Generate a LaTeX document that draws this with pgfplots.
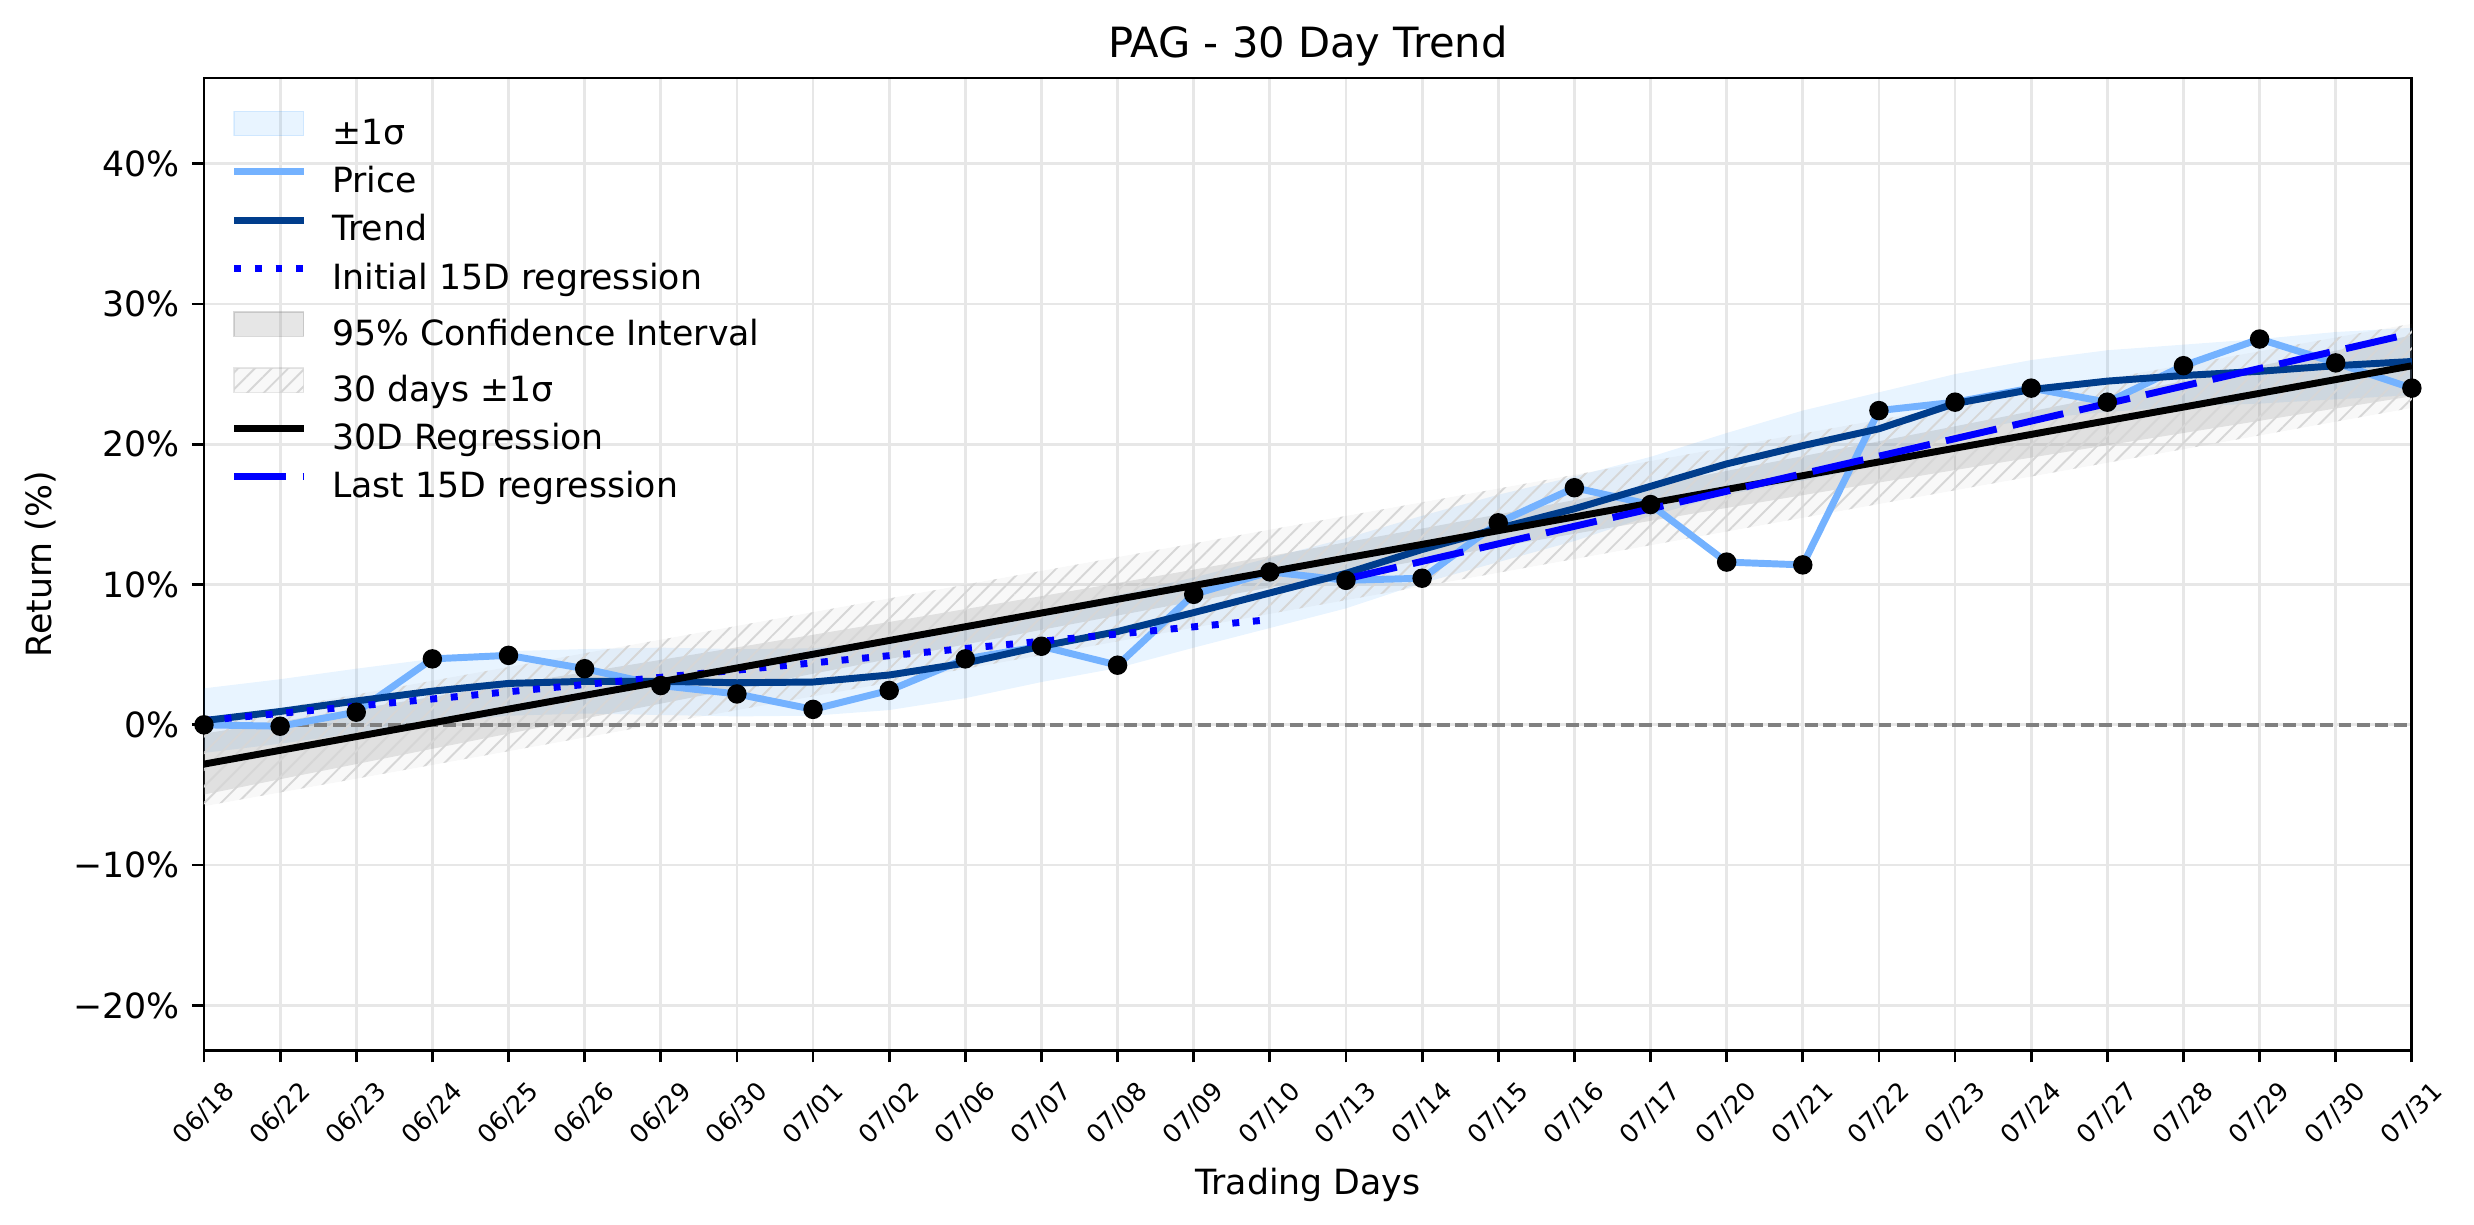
\documentclass[border=0pt]{standalone}
\usepackage{fontspec}
\setmainfont{DejaVu Sans}
\usepackage{pgfplots}
\pgfplotsset{compat=1.18}
\usepackage{pgfplotstable}
\usepgfplotslibrary{fillbetween}
\usetikzlibrary{patterns.meta}

\definecolor{priceblue}{RGB}{116,178,255}
\definecolor{trendblue}{RGB}{0,61,140}
\definecolor{bandblue}{RGB}{30,144,255}
\definecolor{gridgray}{RGB}{231,231,231}

\pgfplotstableread{
i P T U L R CU CL SU SL
0 0.0 0.3 2.6 -2.0 -2.80 -0.63 -4.97 0.20 -5.80
1 -0.1 0.95 3.25 -1.35 -1.82 0.24 -3.88 1.18 -4.82
2 0.9 1.7 4.0 -0.6 -0.84 1.12 -2.80 2.16 -3.84
3 4.7 2.4 4.7 0.1 0.14 1.99 -1.71 3.14 -2.86
4 4.95 2.95 5.25 0.65 1.12 2.87 -0.63 4.12 -1.88
5 4.0 3.1 5.4 0.8 2.10 3.75 0.45 5.10 -0.90
6 2.8 3.1 5.5 0.7 3.07 4.63 1.51 6.07 0.07
7 2.2 3.0 5.4 0.6 4.05 5.52 2.58 7.05 1.05
8 1.1 3.05 5.45 0.65 5.03 6.42 3.64 8.03 2.03
9 2.45 3.55 6.05 1.05 6.01 7.33 4.69 9.01 3.01
10 4.7 4.4 6.9 1.9 6.99 8.25 5.73 9.99 3.99
11 5.6 5.6 8.15 3.05 7.97 9.17 6.77 10.97 4.97
12 4.25 6.65 9.25 4.05 8.95 10.11 7.79 11.95 5.95
13 9.3 8.0 10.5 5.5 9.93 11.06 8.80 12.93 6.93
14 10.9 9.4 11.9 6.9 10.91 12.03 9.79 13.91 7.91
15 10.3 10.8 13.3 8.3 11.89 13.01 10.77 14.89 8.89
16 10.45 12.5 14.9 10.1 12.86 13.99 11.73 15.86 9.86
17 14.4 14.0 16.4 11.6 13.84 15.00 12.68 16.84 10.84
18 16.9 15.4 17.7 13.1 14.82 16.02 13.62 17.82 11.82
19 15.7 17.0 19.1 14.9 15.80 17.06 14.54 18.80 12.80
20 11.6 18.6 20.8 16.4 16.78 18.10 15.46 19.78 13.78
21 11.4 19.9 22.4 17.4 17.76 19.15 16.37 20.76 14.76
22 22.4 21.1 23.7 18.5 18.74 20.21 17.27 21.74 15.74
23 23.0 22.9 25.0 20.8 19.72 21.28 18.16 22.72 16.72
24 24.0 23.9 26.0 21.8 20.70 22.35 19.05 23.70 17.70
25 23.0 24.5 26.7 22.3 21.68 23.43 19.93 24.68 18.68
26 25.6 24.9 27.1 22.7 22.65 24.50 20.80 25.65 19.65
27 27.5 25.2 27.5 22.9 23.63 25.59 21.67 26.63 20.63
28 25.8 25.6 28.0 23.2 24.61 26.67 22.55 27.61 21.61
29 24.0 25.9 28.3 23.5 25.59 27.76 23.42 28.59 22.59
}\data

\pgfplotsset{
  linelegend/.style={legend image code/.code={%
    \draw[##1] (0pt,3.5pt) -- (20pt,3.5pt);
    \path (0pt,0pt) (27.2pt,0pt);}},
  arealegend/.style={legend image code/.code={%
    \draw[##1] (0pt,0pt) rectangle (20pt,7pt);
    \path (0pt,0pt) (27.2pt,0pt);}},
  hatchlegend/.style={legend image code/.code={%
    \path[draw=gray, draw opacity=0.2, fill=gray, fill opacity=0.06] (0pt,0pt) rectangle (20pt,7pt);
    \path[draw=none, pattern={Lines[angle=45,distance=3.4pt,line width=0.55pt]}, pattern color=black!16] (0pt,0pt) rectangle (20pt,7pt);
    \path (0pt,0pt) (27.2pt,0pt);}},
}

\begin{document}
\begin{tikzpicture}
\begin{axis}[
  scale only axis, width=635.9pt, height=280pt,
  xmin=0, xmax=29, ymin=-23.2, ymax=46.1,
  axis line style={line width=0.8pt},
  tick pos=left, tick align=outside, major tick length=3.5pt,
  every tick/.style={black, line width=0.8pt},
  xtick={0,...,29},
  xticklabels={06/18,06/22,06/23,06/24,06/25,06/26,06/29,06/30,07/01,07/02,07/06,07/07,07/08,07/09,07/10,07/13,07/14,07/15,07/16,07/17,07/20,07/21,07/22,07/23,07/24,07/27,07/28,07/29,07/30,07/31},
  ytick={-20,-10,0,10,20,30,40},
  yticklabels={−20\%,−10\%,0\%,10\%,20\%,30\%,40\%},
  grid=major, major grid style={gridgray, line width=0.8pt},
  xticklabel style={font=\fontsize{7.3}{8.8}\selectfont, rotate=45, anchor=center},
  xticklabel shift=14.7pt,
  yticklabel style={font=\fontsize{10}{12}\selectfont},
  title={PAG - 30 Day Trend},
  title style={font=\fontsize{12}{14.4}\selectfont, at={(axis description cs:0.5,1)}, anchor=base},
  xlabel={Trading Days},
  xlabel style={font=\fontsize{10}{12}\selectfont, at={(axis description cs:0.5,-0.1386)}, anchor=center},
  ylabel={Return (\%)},
  ylabel style={font=\fontsize{10}{12}\selectfont, at={(axis description cs:-0.0738,0.5)}, anchor=center},
  legend style={draw=none, fill=none, inner sep=0pt, outer sep=0pt,
    at={(axis description cs:0,1)}, anchor=north west, xshift=7.7pt, yshift=-9.4pt,
    row sep=3.9pt, column sep=0pt,
    font=\fontsize{10}{12}\selectfont,
    nodes={inner sep=0pt, text height=7.5pt, text depth=2.5pt}},
  legend cell align=left,
]
\addlegendimage{arealegend, draw=bandblue, draw opacity=0.12, fill=bandblue, fill opacity=0.1}
\addlegendentry{±1σ}
\addlegendimage{linelegend, priceblue, line width=2pt}
\addlegendentry{Price}
\addlegendimage{linelegend, trendblue, line width=2pt}
\addlegendentry{Trend}
\addlegendimage{linelegend, blue, line width=2pt, dash pattern=on 2pt off 3.95pt}
\addlegendentry{Initial 15D regression}
\addlegendimage{arealegend, draw=gray, draw opacity=0.3, fill=gray, fill opacity=0.2}
\addlegendentry{95\% Confidence Interval}
\addlegendimage{hatchlegend}
\addlegendentry{30 days ±1σ}
\addlegendimage{linelegend, black, line width=2pt}
\addlegendentry{30D Regression}
\addlegendimage{linelegend, blue, line width=2pt, dash pattern=on 15pt off 4.7pt}
\addlegendentry{Last 15D regression}

% zero line
\addplot[gray, line width=1pt, dash pattern=on 3.7pt off 1.6pt, forget plot] coordinates {(0,0) (29,0)};

% +-1 sigma band around trend
\addplot[name path=bU, draw=none, forget plot] table[x=i,y=U]{\data};
\addplot[name path=bL, draw=none, forget plot] table[x=i,y=L]{\data};
\addplot[fill=bandblue, fill opacity=0.1, draw=none, forget plot] fill between[of=bU and bL];

% price and trend
\addplot[priceblue, line width=2pt, forget plot] table[x=i,y=P]{\data};
\addplot[trendblue, line width=2pt, forget plot] table[x=i,y=T]{\data};

% initial 15D regression
\addplot[blue, line width=2pt, dash pattern=on 2pt off 3.95pt, forget plot] coordinates {(0,0.3) (14,7.5)};

% 95% CI
\addplot[name path=cU, draw=none, forget plot] table[x=i,y=CU]{\data};
\addplot[name path=cL, draw=none, forget plot] table[x=i,y=CL]{\data};
\addplot[fill=gray, fill opacity=0.2, draw=none, forget plot] fill between[of=cU and cL];

% 30 days +-1 sigma (hatched)
\addplot[name path=sU, draw=none, forget plot] table[x=i,y=SU]{\data};
\addplot[name path=sL, draw=none, forget plot] table[x=i,y=SL]{\data};
\addplot[fill=gray, fill opacity=0.06, draw=none, forget plot] fill between[of=sU and sL];
\addplot[pattern={Lines[angle=45,distance=3.4pt,line width=0.55pt]}, pattern color=black!16, draw=none, forget plot] fill between[of=sU and sL];

% 30D regression
\addplot[black, line width=2pt, forget plot] table[x=i,y=R]{\data};

% last 15D regression
\addplot[blue, line width=2pt, dash pattern=on 15pt off 4.7pt, forget plot] coordinates {(15,10.4) (29,27.9)};

% price markers
\addplot[only marks, mark=*, mark size=2.6pt, black, forget plot] table[x=i,y=P]{\data};

\coordinate (bl) at (rel axis cs:0,0);
\coordinate (tr) at (rel axis cs:1,1);
\end{axis}
\pgfresetboundingbox
\path[use as bounding box] ([xshift=-58.75pt,yshift=-50.1pt]bl) rectangle ([xshift=17.9pt,yshift=22.5pt]tr);
\end{tikzpicture}
\end{document}
